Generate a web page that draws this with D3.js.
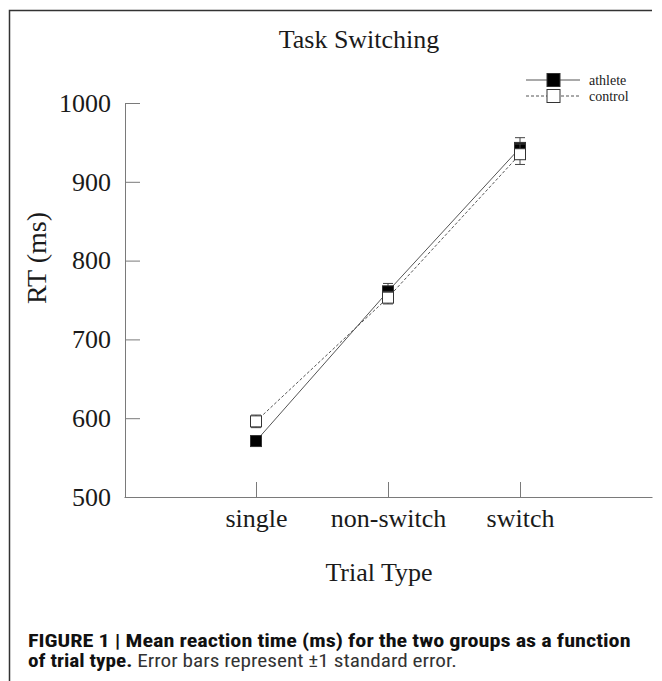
<!DOCTYPE html>
<html>
<head>
<meta charset="utf-8">
<script src="https://cdn.jsdelivr.net/npm/d3@7"></script>
<style>
    body { margin: 0; background: #fff; }
    svg { display: block; }
</style>
</head>
<body>
<svg id="chart"></svg>
<script>
// values
var categories = ["single", "non-switch", "switch"];
var athleteRT = [571, 761, 943];
var athleteSE = [6, 10, 13];
var controlRT = [596, 753, 935];
var controlSE = [8, 8, 13];
var yTicks = [500, 600, 700, 800, 900, 1000];
var seriesNames = ["athlete", "control"];

var TaskChart;
(function (TaskChart) {
    var W = 662, H = 681;
    var SERIF = '"Liberation Serif", "Times New Roman", serif';
    var SANS = '"Liberation Sans Narrow", "Roboto Condensed", Roboto, "Liberation Sans", Arial, sans-serif';
    var AXIS = "#7a7a7a";
    var INK = "#1a1a1a";
    var svg, x, y;

    function fitWidth(sel, x0, target) {
        var w = sel.node().getComputedTextLength();
        sel.attr("transform", "translate(" + x0 + ",0) scale(" + (target / w) + ",1) translate(" + (-x0) + ",0)");
    }

    function drawSeries(rt, se, fill, dash) {
        var pts = categories.map(function (c, i) { return { c: c, v: rt[i], e: se[i] }; });
        var g = svg.append("g");
        g.append("path")
            .datum(pts)
            .attr("fill", "none")
            .attr("stroke", "#555")
            .attr("stroke-width", 1)
            .attr("stroke-dasharray", dash)
            .attr("d", d3.line().x(function (d) { return x(d.c); }).y(function (d) { return y(d.v); }));
        var eb = g.selectAll(".eb").data(pts).enter().append("g").attr("class", "eb");
        eb.append("line")
            .attr("x1", function (d) { return x(d.c); })
            .attr("x2", function (d) { return x(d.c); })
            .attr("y1", function (d) { return y(d.v - d.e); })
            .attr("y2", function (d) { return y(d.v + d.e); })
            .attr("stroke", "#444");
        [-1, 1].forEach(function (s) {
            eb.append("line")
                .attr("x1", function (d) { return x(d.c) - 5; })
                .attr("x2", function (d) { return x(d.c) + 5; })
                .attr("y1", function (d) { return y(d.v + s * d.e); })
                .attr("y2", function (d) { return y(d.v + s * d.e); })
                .attr("stroke", "#444");
        });
        g.selectAll(".pt").data(pts).enter().append("rect")
            .attr("class", "pt")
            .attr("x", function (d) { return x(d.c) - 5.5; })
            .attr("y", function (d) { return y(d.v) - 5.5; })
            .attr("width", 11)
            .attr("height", 11)
            .attr("fill", fill)
            .attr("stroke", "#333")
            .attr("stroke-width", 1);
    }

    function init() {
        svg = d3.select("#chart").attr("width", W).attr("height", H);

        // frame (top and left edges)
        svg.append("path")
            .attr("d", "M9.5," + H + "V10.5H652")
            .attr("fill", "none")
            .attr("stroke", "#333")
            .attr("stroke-width", 1.5);

        y = d3.scaleLinear().domain([500, 1000]).range([497, 103]);
        x = d3.scalePoint().domain(categories).range([124, 652]).padding(1);

        var ya = svg.append("g")
            .attr("transform", "translate(125,0)")
            .call(d3.axisLeft(y).tickValues(yTicks).tickFormat(d3.format("d"))
                .tickSize(-15).tickSizeOuter(0).tickPadding(14));
        var xa = svg.append("g")
            .attr("transform", "translate(0,497)")
            .call(d3.axisBottom(x).tickSize(-15).tickSizeOuter(0).tickPadding(12));
        [ya, xa].forEach(function (a) {
            a.select(".domain").attr("stroke", AXIS);
            a.selectAll(".tick line").attr("stroke", AXIS);
            a.selectAll("text")
                .attr("fill", INK)
                .style("font-family", SERIF)
                .style("font-size", "26px");
        });

        drawSeries(athleteRT, athleteSE, "#000", null);
        drawSeries(controlRT, controlSE, "#fff", "3,2");

        svg.append("text")
            .attr("x", 359).attr("y", 48)
            .attr("text-anchor", "middle")
            .attr("fill", INK)
            .style("font-family", SERIF).style("font-size", "26px")
            .text("Task Switching");
        svg.append("text")
            .attr("transform", "translate(46,258) rotate(-90)")
            .attr("text-anchor", "middle")
            .attr("fill", INK)
            .style("font-family", SERIF).style("font-size", "28px")
            .text("RT (ms)");
        svg.append("text")
            .attr("x", 379).attr("y", 581)
            .attr("text-anchor", "middle")
            .attr("fill", INK)
            .style("font-family", SERIF).style("font-size", "26px")
            .text("Trial Type");

        // legend
        var lg = svg.append("g");
        seriesNames.forEach(function (n, i) {
            var ly = 80 + i * 16;
            lg.append("line")
                .attr("x1", 526).attr("x2", 580).attr("y1", ly).attr("y2", ly)
                .attr("stroke", "#555")
                .attr("stroke-dasharray", i === 0 ? null : "3,2");
            lg.append("rect")
                .attr("x", 547).attr("y", ly - 6.5).attr("width", 13).attr("height", 13)
                .attr("fill", i === 0 ? "#000" : "#fff")
                .attr("stroke", "#333");
            lg.append("text")
                .attr("x", 589).attr("y", ly + 5)
                .attr("fill", INK)
                .style("font-family", SERIF).style("font-size", "14px")
                .text(n);
        });

        // caption
        var c1 = svg.append("text")
            .attr("x", 28).attr("y", 647)
            .attr("fill", "#111")
            .style("font-family", SANS).style("font-size", "18px").style("font-weight", "bold")
            .text("FIGURE 1 | Mean reaction time (ms) for the two groups as a function");
        fitWidth(c1, 28, 603);
        var c2 = svg.append("text")
            .attr("x", 28).attr("y", 667)
            .attr("fill", "#111")
            .style("font-family", SANS).style("font-size", "18px");
        c2.append("tspan").style("font-weight", "bold").text("of trial type.");
        c2.append("tspan").attr("fill", "#333").text(" Error bars represent \u00b11 standard error.");
        fitWidth(c2, 28, 429);
    }
    TaskChart.init = init;
})(TaskChart || (TaskChart = {}));

TaskChart.init();
</script>
</body>
</html>
